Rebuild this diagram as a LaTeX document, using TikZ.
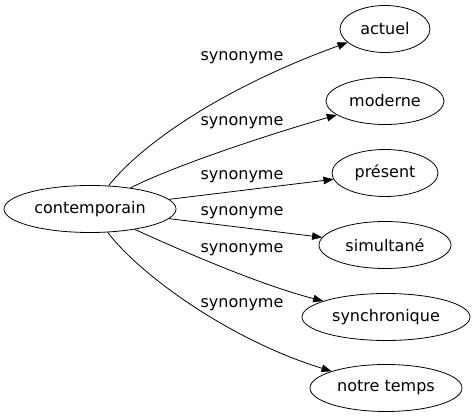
\documentclass[tikz,border=0pt]{standalone}
\usepackage{fontspec}
\setmainfont{DejaVu Sans}
\usetikzlibrary{shapes.geometric,arrows.meta}

\begin{document}
\begin{tikzpicture}[x=1pt,y=1pt,yscale=-1,xscale=1,
  word/.style={draw,ellipse,line width=0.8pt,inner sep=0pt,minimum height=47,font=\fontsize{16}{19}\selectfont},
  synlabel/.style={inner sep=0pt,font=\fontsize{16}{19}\selectfont},
  synedge/.style={line width=0.8pt,-{Triangle[length=10pt,width=7.5pt]}}]
\useasboundingbox (0,0) rectangle (475,419);

% Text Node
\node (contemporain) [word,minimum width=172] at (90,209) {contemporain};
% Text Node
\node (actuel) [word,minimum width=90] at (385,29) {actuel};
% Text Node
\node (moderne) [word,minimum width=118] at (385,101) {moderne};
% Text Node
\node (present) [word,minimum width=106] at (385,173) {présent};
% Text Node
\node (simultane) [word,minimum width=132] at (385,245) {simultané};
% Text Node
\node (synchronique) [word,minimum width=168] at (386,317) {synchronique};
% Text Node
\node (notretemps) [word,minimum width=152] at (386,388) {notre temps};

% Edge labels
\node (lab1) [synlabel] at (242,58) {synonyme};
\node (lab2) [synlabel] at (242,123) {synonyme};
\node (lab3) [synlabel] at (242,177) {synonyme};
\node (lab4) [synlabel] at (242,213) {synonyme};
\node (lab5) [synlabel] at (242,250) {synonyme};
\node (lab6) [synlabel] at (242,305) {synonyme};

%Curve Lines
\draw [synedge] (contemporain) .. controls (145,140) and (230,85) .. (actuel);
%Curve Lines
\draw [synedge] (contemporain) .. controls (165,170) and (250,140) .. (moderne);
%Straight Lines
\draw [synedge] (contemporain) -- (present);
%Straight Lines
\draw [synedge] (contemporain) -- (simultane);
%Curve Lines
\draw [synedge] (contemporain) .. controls (180,250) and (260,285) .. (synchronique);
%Curve Lines
\draw [synedge] (contemporain) .. controls (140,275) and (230,340) .. (notretemps);
\end{tikzpicture}
\end{document}
